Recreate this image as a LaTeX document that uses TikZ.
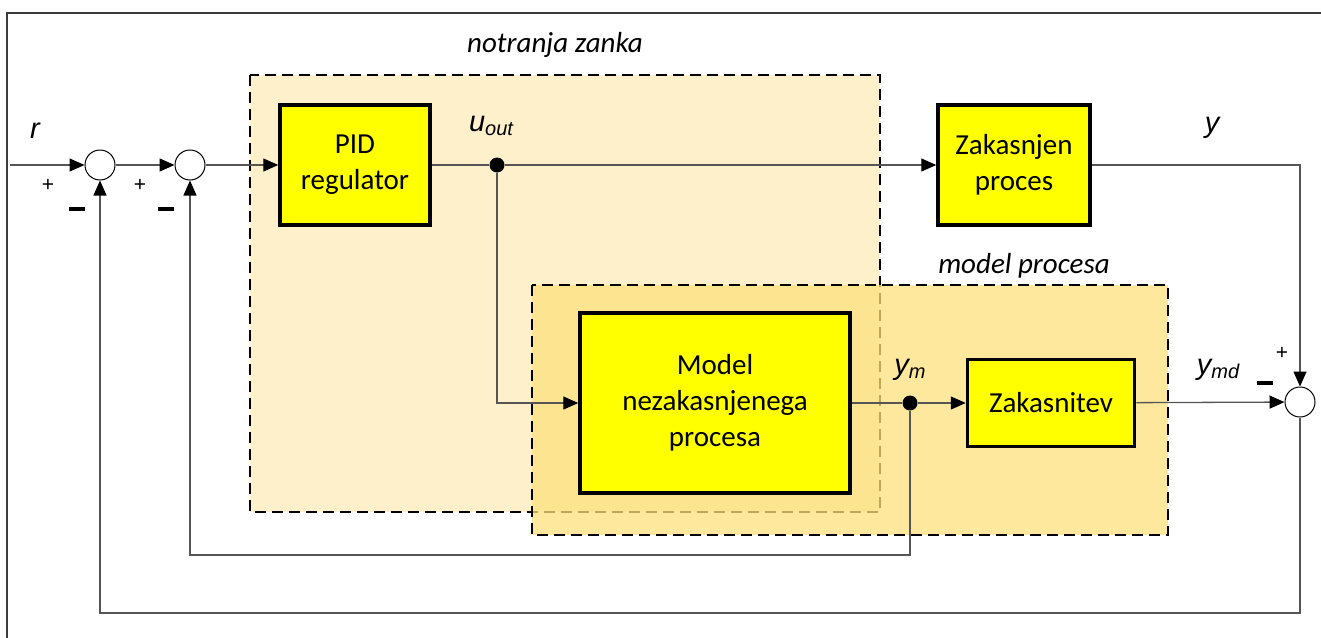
\documentclass[tikz,border=0pt]{standalone}
\usepackage{fontspec}
\setmainfont{Carlito}
\newfontfamily\arialfont{Liberation Sans}
\usetikzlibrary{arrows.meta}
\definecolor{innerfill}{RGB}{253,240,202}
\definecolor{modelfill}{RGB}{254,224,125}
\definecolor{wire}{RGB}{85,85,85}
\definecolor{frameline}{RGB}{60,60,60}
\definecolor{blockyellow}{RGB}{255,255,0}
\newcommand\siglabel[2]{{\arialfont\itshape\fontsize{29}{32}\selectfont #1\raisebox{-4pt}{\fontsize{20}{22}\selectfont #2}}}
\begin{document}
\begin{tikzpicture}[x=1pt,y=-1pt,
  block/.style={draw=black, line width=3.5pt, fill=blockyellow, align=center,
    inner sep=0pt, font=\fontsize{29}{36}\selectfont},
  sumnode/.style={circle, draw=black, line width=1pt, fill=white,
    minimum size=30pt, inner sep=0pt},
  junction/.style={circle, fill=black, minimum size=15pt, inner sep=0pt},
  wirearrow/.style={draw=wire, line width=1.3pt,
    -{Triangle[length=15pt,width=13pt,color=black]}},
  wireplain/.style={draw=wire, line width=1.3pt},
  groupbox/.style={draw=black, line width=2.5pt, dash pattern=on 11pt off 6pt},
  grouplabel/.style={font=\itshape\fontsize{29}{32}\selectfont},
  sign/.style={font=\arialfont\fontsize{21}{22}\selectfont, inner sep=0pt},
  minus/.style={fill=black, minimum width=16pt, minimum height=3.3pt, inner sep=0pt}]
\useasboundingbox (0,0) rectangle (1321,637);

% frame
\draw[frameline, line width=2pt] (7,640) -- (7,13) -- (1324,13);

% grouping regions
\path[groupbox, fill=innerfill] (250,75) rectangle (880,512);
\path[fill=modelfill, fill opacity=0.75] (532,285) rectangle (1168,535);
\path[groupbox] (532,285) rectangle (1168,535);
\node[grouplabel] (lblinner) at (555,45) {notranja zanka};
\node[grouplabel] (lblmodel) at (1024,266) {model procesa};

% blocks
\node[block, minimum width=150pt, minimum height=120pt] (pid) at (355,165) {PID\\regulator};
\node[block, minimum width=152pt, minimum height=120pt] (proc) at (1014,165) {Zakasnjen\\proces};
\node[block, minimum width=270pt, minimum height=180pt] (model) at (715,403) {Model\\nezakasnjenega\\procesa};
\node[block, minimum width=167pt, minimum height=87pt] (delay) at (1051,403) {Zakasnitev};

% summing junctions
\node[sumnode] (s1) at (100,165) {};
\node[sumnode] (s2) at (190,165) {};
\node[sumnode] (s3) at (1300,402) {};

% branch points
\node[junction] (uout) at (497,165) {};
\node[junction] (ym) at (910,403) {};

% signal labels
\node (lr) at (35,133) {\siglabel{r}{}};
\node (lu) at (491,126) {\siglabel{u}{out}};
\node (ly) at (1212,128) {\siglabel{y}{}};
\node (lym) at (910,370) {\siglabel{y}{m}};
\node (lymd) at (1218,370) {\siglabel{y}{md}};

% signs
\node[sign] (p1) at (48,185) {+};
\node[sign] (p2) at (140,185) {+};
\node[sign] (p3) at (1282,353) {+};
\node[minus] (m1) at (77,209) {};
\node[minus] (m2) at (166,209) {};
\node[minus] (m3) at (1265,383) {};

% connectors
\coordinate (rin) at (10,165);
\draw[wirearrow] (rin) -- (s1);
\draw[wirearrow] (s1) -- (s2);
\draw[wirearrow] (s2) -- (pid);
\draw[wireplain] (pid) -- (uout);
\draw[wirearrow] (uout) -- (proc);
\draw[wirearrow] (uout) |- (model.west);
\draw[wireplain] (model) -- (ym);
\draw[wirearrow] (ym) -- (delay);
\draw[wirearrow] (delay) -- (s3);
\draw[wirearrow] (proc.east) -| (s3.north);
\draw[wirearrow] (ym) -- (910,555) -| (s2.south);
\draw[wirearrow] (s3.south) -- (1300,613) -| (s1.south);
\end{tikzpicture}
\end{document}
